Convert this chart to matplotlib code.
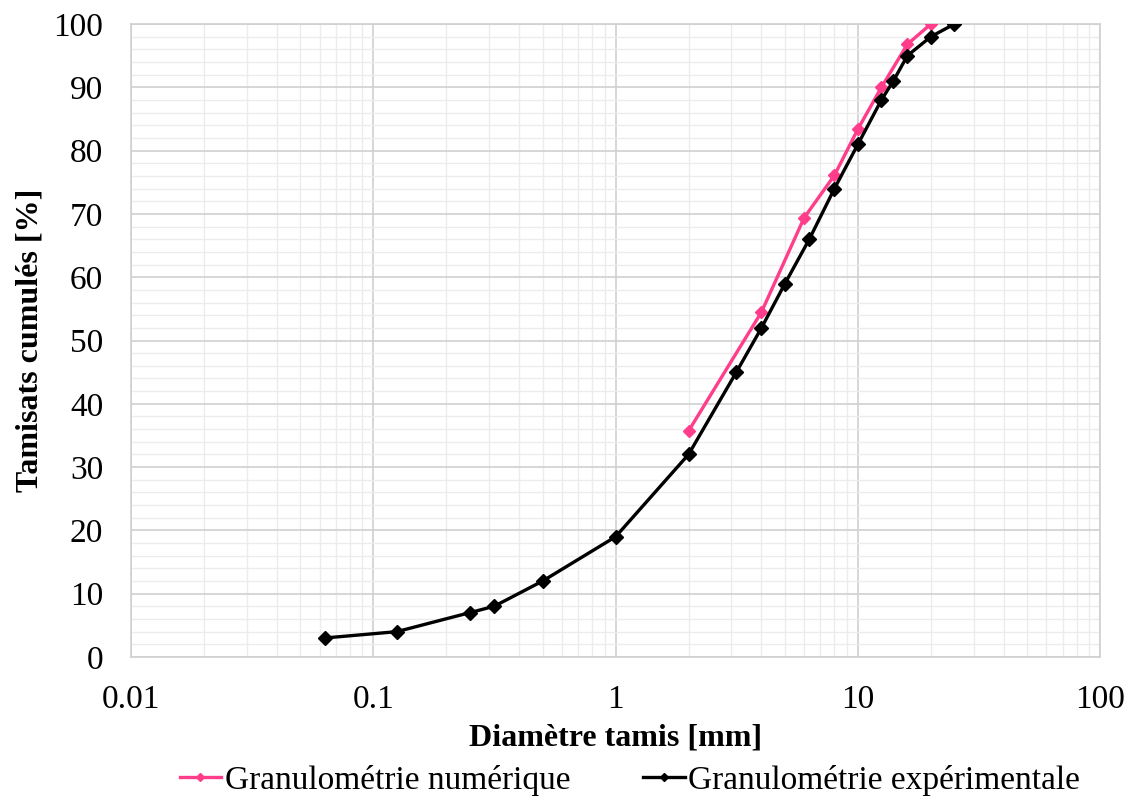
import numpy as np
import matplotlib
matplotlib.use("Agg")
import matplotlib.pyplot as plt
from matplotlib.ticker import LogLocator, FixedLocator, NullFormatter, FuncFormatter

plt.rcParams['font.family'] = ['Liberation Serif', 'DejaVu Serif']

# sieve sizes [mm] and cumulative passing [%]
d_exp = [0.063, 0.125, 0.25, 0.315, 0.5, 1, 2, 3.15, 4, 5, 6.3, 8, 10, 12.5, 14, 16, 20, 25]
p_exp = [3, 4, 7, 8, 12, 19, 32, 45, 52, 59, 66, 74, 81, 88, 91, 95, 98, 100]

d_num = [2, 4, 6, 8, 10, 12.5, 16, 20]
p_num = [35.7, 54.5, 69.4, 76.1, 83.4, 90, 96.8, 100]

label_num = "Granulométrie numérique"
label_exp = "Granulométrie expérimentale"

fig = plt.figure(figsize=(11.31, 8.01), dpi=100)
ax = fig.add_axes([0.1158, 0.1798, 0.857, 0.7902])

ax.plot(d_num, p_num, color='#ff3d8b', lw=2.4, marker='D', ms=6.5,
        label=label_num, zorder=3)
ax.plot(d_exp, p_exp, color='black', lw=2.4, marker='D', ms=7.5,
        label=label_exp, zorder=4)

ax.set_xscale('log')
ax.set_xlim(0.01, 100)
ax.set_ylim(0, 100)
ax.xaxis.set_major_locator(FixedLocator([0.01, 0.1, 1, 10, 100]))
ax.xaxis.set_major_formatter(FuncFormatter(lambda v, p: f"{v:g}"))
ax.xaxis.set_minor_locator(LogLocator(base=10, subs=np.arange(2, 10)))
ax.xaxis.set_minor_formatter(NullFormatter())
ax.set_yticks(np.arange(0, 101, 10))
ax.set_yticks(np.arange(0, 101, 2), minor=True)

ax.grid(which='major', color='#d0d0d0', lw=1.2)
ax.grid(which='minor', color='#ececec', lw=1.0)
ax.set_axisbelow(True)
for s in ax.spines.values():
    s.set_color('#d0d0d0')
    s.set_linewidth(1.2)
ax.tick_params(which='both', length=0, labelsize=24)
ax.tick_params(axis='x', pad=20)
ax.tick_params(axis='y', pad=20)

ax.set_xlabel("Diamètre tamis [mm]", fontsize=23, fontweight='bold', labelpad=6)
ax.set_ylabel("Tamisats cumulés [%]", fontsize=23, fontweight='bold', labelpad=6)

fig.legend(loc='center', bbox_to_anchor=(0.557, 0.026), ncol=2, frameon=False,
           fontsize=24, handlelength=1.25, handletextpad=0.1, columnspacing=2.2,
           markerscale=0.6)

fig.savefig("out.png", dpi=100)
